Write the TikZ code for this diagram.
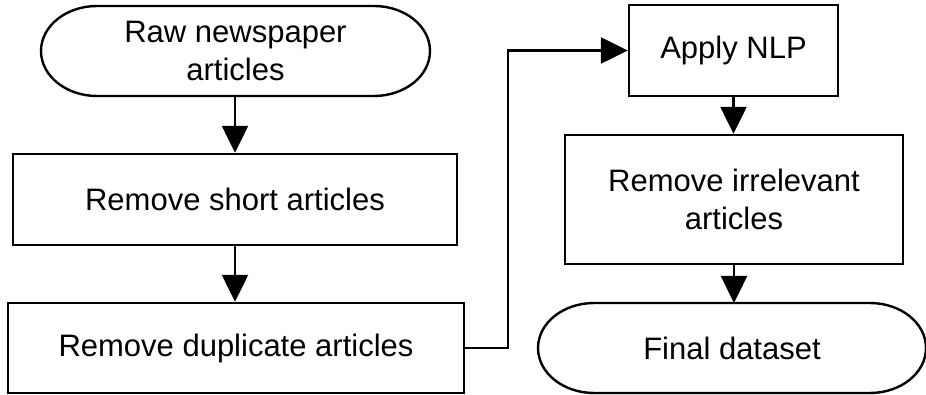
\documentclass[tikz,border=0pt]{standalone}
\usepackage{fontspec}
\setmainfont{Liberation Sans}
\usetikzlibrary{arrows.meta}

\tikzset{
  base/.style={line width=2.4pt, font=\fontsize{31}{38}\selectfont, align=center, inner sep=0pt},
  procbox/.style={base, draw, rectangle},
  termbox/.style={base, rectangle, outer sep=0pt},
  flow/.style={line width=2.4pt, -{Triangle[width=26pt,length=27pt]}},
  plain/.style={line width=2.4pt}
}

% terminal shape: straight top and bottom with elliptic ends
\newcommand{\terminal}[2]{% node name, end radius
  \draw[line width=2.4pt]
    ([xshift=#2]#1.north west) -- ([xshift=-#2]#1.north east)
    arc[start angle=90, end angle=-90, x radius=#2, y radius=45pt]
    -- ([xshift=#2]#1.south west)
    arc[start angle=270, end angle=90, x radius=#2, y radius=45pt]
    -- cycle;
}

\begin{document}
\begin{tikzpicture}[x=1pt, y=1pt]
  \useasboundingbox (0,0) rectangle (926,-395);

  % left column
  \node[termbox, minimum width=389pt, minimum height=90pt] (raw) at (235.5,-51) {Raw newspaper\\articles};
  \terminal{raw}{56pt}
  \node[procbox, minimum width=444pt, minimum height=91pt] (short) at (235,-199.5) {Remove short articles};
  \node[procbox, minimum width=456pt, minimum height=90pt] (dup) at (236,-348) {Remove duplicate articles};

  % right column
  \node[procbox, minimum width=209pt, minimum height=91pt] (nlp) at (733.5,-50.5) {Apply NLP};
  \node[procbox, minimum width=338pt, minimum height=129pt] (irr) at (734,-199.5) {Remove irrelevant\\articles};
  \node[termbox, minimum width=388pt, minimum height=90pt] (final) at (732,-348) {Final dataset};
  \terminal{final}{56pt}

  % connectors
  \draw[flow] (raw.south -| short.north) -- (short.north);
  \draw[flow] (short.south) -- (short.south |- dup.north);
  \coordinate (bend) at (508,-348);
  \draw[flow] (dup.east) -- (bend) |- (nlp.west);
  \draw[flow] (nlp.south) -- (nlp.south |- irr.north);
  \draw[flow] (irr.south) -- (irr.south |- final.north);
\end{tikzpicture}
\end{document}
